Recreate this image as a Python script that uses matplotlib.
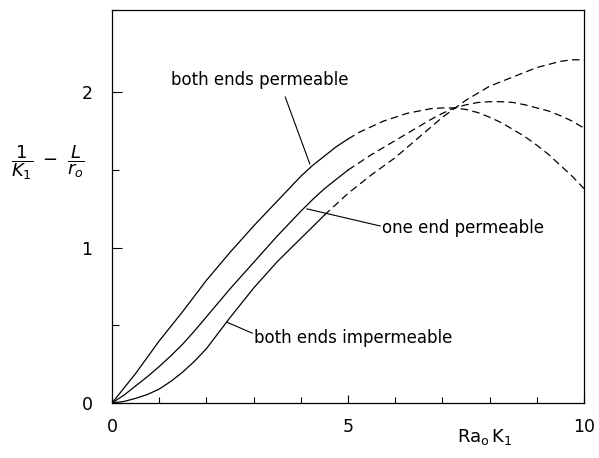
import matplotlib
matplotlib.use("Agg")
import matplotlib.pyplot as plt
from matplotlib.ticker import MultipleLocator, FixedLocator

plt.rcParams['font.family'] = 'DejaVu Sans'
plt.rcParams['mathtext.fontset'] = 'dejavusans'

# Ra_o K_1 grid and the three boundary cases
ra_k = [0.0, 0.25, 0.5, 0.75, 1.0, 1.25, 1.5, 1.75, 2.0, 2.25, 2.5, 2.75,
        3.0, 3.25, 3.5, 3.75, 4.0, 4.25, 4.5, 4.75, 5.0, 5.25, 5.5, 5.75,
        6.0, 6.25, 6.5, 6.75, 7.0, 7.25, 7.5, 7.75, 8.0, 8.25, 8.5, 8.75,
        9.0, 9.25, 9.5, 9.75, 10.0]
both_perm = [0.0, 0.095, 0.19, 0.295, 0.40, 0.495, 0.59, 0.69, 0.79, 0.88,
             0.97, 1.055, 1.14, 1.22, 1.30, 1.38, 1.46, 1.53, 1.59, 1.65,
             1.70, 1.745, 1.78, 1.815, 1.84, 1.865, 1.88, 1.895, 1.90, 1.90,
             1.89, 1.87, 1.84, 1.805, 1.76, 1.715, 1.66, 1.60, 1.53, 1.46,
             1.38]
one_perm = [0.0, 0.05, 0.11, 0.17, 0.235, 0.305, 0.38, 0.465, 0.555, 0.645,
            0.735, 0.82, 0.905, 0.99, 1.075, 1.155, 1.235, 1.31, 1.38, 1.44,
            1.50, 1.55, 1.60, 1.645, 1.69, 1.735, 1.78, 1.825, 1.865, 1.90,
            1.92, 1.935, 1.94, 1.94, 1.935, 1.92, 1.90, 1.88, 1.85, 1.815,
            1.77]
both_imperm = [0.0, 0.01, 0.03, 0.055, 0.09, 0.14, 0.20, 0.27, 0.35, 0.45,
               0.55, 0.645, 0.74, 0.825, 0.91, 0.985, 1.06, 1.135, 1.21, 1.28,
               1.35, 1.41, 1.47, 1.525, 1.58, 1.645, 1.71, 1.775, 1.84, 1.895,
               1.95, 1.995, 2.04, 2.07, 2.10, 2.13, 2.16, 2.18, 2.20, 2.21,
               2.21]

# index where each curve switches from solid to dashed
solid_end = [20, 20, 18]
curves = [both_perm, one_perm, both_imperm]

fig = plt.figure(figsize=(5.99, 4.58), dpi=100)
ax = fig.add_axes([0.187, 0.120, 0.788, 0.858])

for ys, n in zip(curves, solid_end):
    ax.plot(ra_k[:n + 1], ys[:n + 1], color='black', lw=0.9)
    ax.plot(ra_k[n:], ys[n:], color='black', lw=0.9, linestyle=(0, (6, 3.5)))

# labels with leader lines
lab = dict(fontsize=12, color='black')
ax.plot([3.67, 4.19], [1.97, 1.54], color='black', lw=0.8)
ax.text(1.25, 2.08, 'both ends permeable', va='center', ha='left', **lab)
ax.plot([4.13, 5.68], [1.25, 1.14], color='black', lw=0.8)
ax.text(5.72, 1.13, 'one end permeable', va='center', ha='left', **lab)
ax.plot([2.44, 2.97], [0.52, 0.45], color='black', lw=0.8)
ax.text(3.0, 0.42, 'both ends impermeable', va='center', ha='left', **lab)

ax.set_xlim(0, 10)
ax.set_ylim(0, 2.53)
ax.xaxis.set_major_locator(MultipleLocator(5))
ax.xaxis.set_minor_locator(MultipleLocator(1))
ax.yaxis.set_major_locator(MultipleLocator(1))
ax.yaxis.set_minor_locator(FixedLocator([0.5, 1.5]))
ax.tick_params(which='both', direction='in', width=0.8, labelsize=12.5)
ax.tick_params(axis='x', which='major', length=6, pad=11)
ax.tick_params(axis='x', which='minor', length=4)
ax.tick_params(axis='y', which='major', length=7, pad=14)
ax.tick_params(axis='y', which='minor', length=5)
for s in ax.spines.values():
    s.set_linewidth(0.9)

ax.text(0.79, -0.087, r'$\mathregular{Ra_o\,K_1}$', transform=ax.transAxes,
        ha='center', va='center', fontsize=13)
fig.text(0.080, 0.644, r'$\dfrac{1}{K_1}\ -\ \dfrac{L}{r_o}$',
         ha='center', va='center', fontsize=13)

fig.savefig('out.png', dpi=100)
